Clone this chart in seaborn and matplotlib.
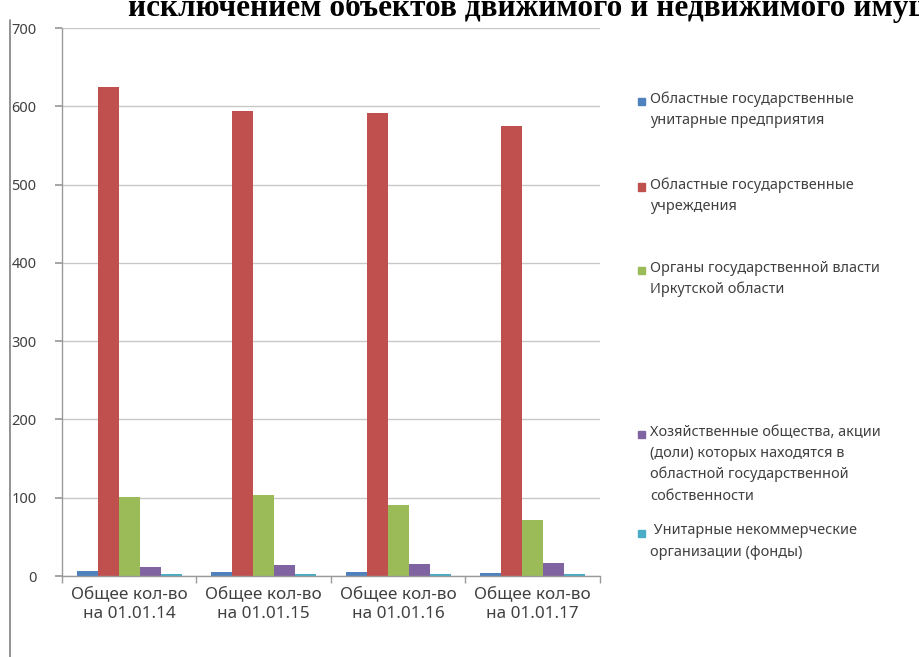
import matplotlib
matplotlib.use('Agg')
import matplotlib.pyplot as plt
import seaborn as sns
import pandas as pd
from matplotlib.patches import Rectangle
from matplotlib.lines import Line2D
from matplotlib.ticker import FixedLocator

categories = ["Общее кол-во\nна 01.01.14", "Общее кол-во\nна 01.01.15",
              "Общее кол-во\nна 01.01.16", "Общее кол-во\nна 01.01.17"]
series_names = [
    "Областные государственные\nунитарные предприятия",
    "Областные государственные\nучреждения",
    "Органы государственной власти\nИркутской области",
    "Хозяйственные общества, акции\n(доли) которых находятся в\nобластной государственной\nсобственности",
    " Унитарные некоммерческие\nорганизации (фонды)",
]
ogup = [7, 5, 5, 4]
ogu = [625, 594, 591, 575]
organs = [101, 103, 91, 71]
hoz = [12, 14, 15, 17]
unk = [2, 2, 2, 2]
colors = ["#4F81BD", "#C0504D", "#9BBB59", "#8064A2", "#4BACC6"]
title_text = "исключением объектов движимого и недвижимого имущества"

series_values = [ogup, ogu, organs, hoz, unk]
rows = []
for name, vals in zip(series_names, series_values):
    for c, v in zip(categories, vals):
        rows.append({"cat": c, "val": v, "series": name})
df = pd.DataFrame(rows)

sns.set_theme(style="white")
plt.rcParams['font.family'] = ['Noto Sans', 'DejaVu Sans']
txt_color = "#404040"

W, H = 920, 657
fig = plt.figure(figsize=(W / 100, H / 100), dpi=100)
ax = fig.add_axes([62 / W, 1 - 576 / H, (600 - 62) / W, (576 - 28) / H])

sns.barplot(data=df, x="cat", y="val", hue="series", hue_order=series_names,
            order=categories, palette=colors, width=0.78, saturation=1,
            legend=False, ax=ax, linewidth=0, errorbar=None)

ax.set_ylim(0, 700)
ax.set_xlim(-0.5, 3.5)
ax.set_yticks(range(0, 701, 100))
ax.yaxis.grid(True, color="#C8C8C8", linewidth=1)
ax.set_axisbelow(True)
ax.set_xlabel("")
ax.set_ylabel("")
for s in ["top", "right"]:
    ax.spines[s].set_visible(False)
for s in ["left", "bottom"]:
    ax.spines[s].set_color("#9A9A9A")
    ax.spines[s].set_linewidth(1)
ax.tick_params(axis="y", which="major", length=5, color="#9A9A9A",
               labelsize=10.5, labelcolor=txt_color, pad=13.5, left=True)
ax.tick_params(axis="x", which="major", length=0, labelsize=12.3,
               labelcolor=txt_color, pad=7)
for lbl in ax.get_xticklabels():
    lbl.set_linespacing(1.35)
ax.xaxis.set_minor_locator(FixedLocator([-0.5, 0.5, 1.5, 2.5, 3.5]))
ax.tick_params(axis="x", which="minor", length=5, color="#9A9A9A", bottom=True)

# Legend (manual layout)
entry_tops = [101, 187, 270, 434, 533]
for name, col, ytop in zip(series_names, colors, entry_tops):
    rect = Rectangle((638 / W, 1 - (ytop + 3.5) / H), 7 / W, 7 / H,
                     transform=fig.transFigure, color=col, figure=fig)
    fig.patches.append(rect)
    fig.text(650 / W, 1 - (ytop - 9.5) / H, name, ha="left", va="top",
             fontsize=10.4, color=txt_color, linespacing=1.55)

# Partial title at top (clipped by the figure edge, as in the reference)
fig.text(128 / W, 1 - 16 / H, title_text, ha="left", va="baseline",
         fontsize=22.5, fontweight="bold", family="Liberation Serif", color="black")

# Left frame line of the chart area
fig.add_artist(Line2D([10 / W, 10 / W], [0, 1 - 20 / H], transform=fig.transFigure,
                      color="#7F7F7F", linewidth=1.2))

fig.savefig("out.png", dpi=100)
